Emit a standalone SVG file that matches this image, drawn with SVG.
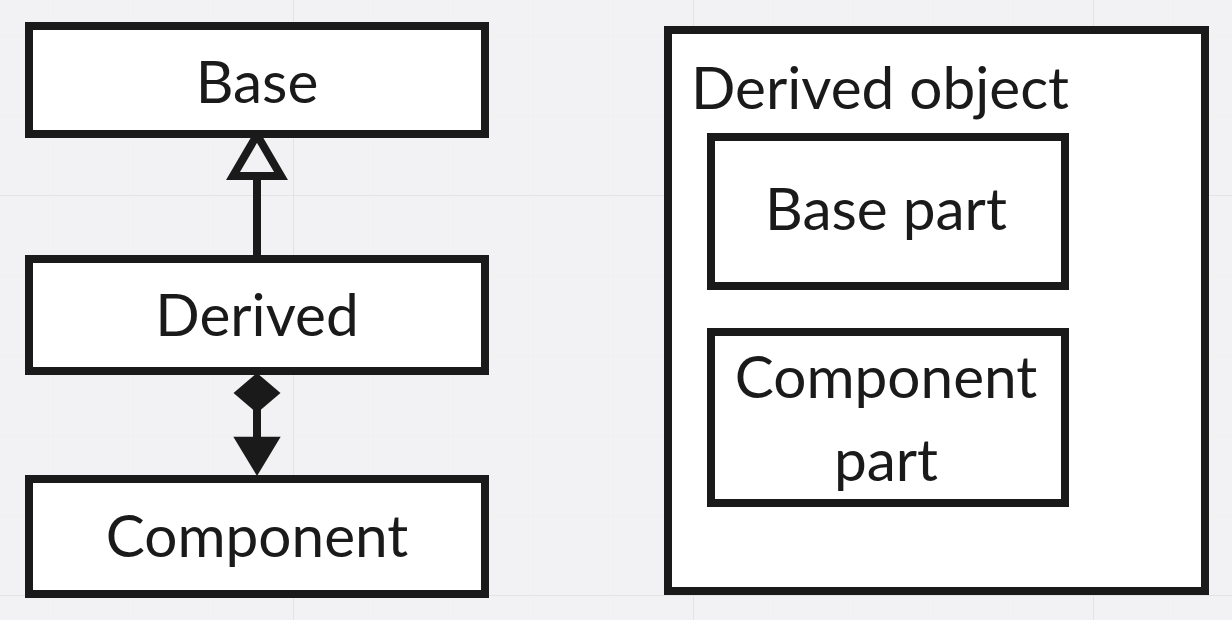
<svg xmlns="http://www.w3.org/2000/svg" width="1232" height="620" viewBox="0 0 1232 620">
<defs>
<pattern id="minor" width="80" height="80" patternUnits="userSpaceOnUse" x="53" y="35">
<path d="M0 0V80M0 0H80" fill="none" stroke="#efeff1" stroke-width="1.5"/>
</pattern>
<pattern id="major" width="400" height="400" patternUnits="userSpaceOnUse" x="293" y="195">
<path d="M0 0V400M0 0H400" fill="none" stroke="#e3e3e6" stroke-width="2"/>
</pattern>
</defs>
<style>
.box{fill:#ffffff;stroke:#1a1a1a;stroke-width:8}
.lbl{font-family:Lato,"Noto Sans","Liberation Sans",sans-serif;font-size:58.5px;font-weight:400;fill:#1a1a1a;text-anchor:middle}
.lbl-start{text-anchor:start}
.edge{stroke:#1a1a1a;stroke-width:8;fill:none}
.hollow{fill:#f2f2f4;stroke:#1a1a1a;stroke-width:8;stroke-linejoin:miter}
.solid{fill:#1a1a1a;stroke:none}
</style>
<rect width="1232" height="620" fill="#f2f2f4"/>
<rect width="1232" height="620" fill="url(#minor)"/>
<rect width="1232" height="620" fill="url(#major)"/>

<g id="connectors">
<line class="edge" x1="257" y1="259" x2="257" y2="174"/>
<polygon class="hollow" points="257,135 281,176 233,176"/>
<polygon class="solid" points="257,373 280.5,393 257,413 233.5,393"/>
<line class="edge" x1="257" y1="405" x2="257" y2="440"/>
<polygon class="solid" points="233.3,436.7 280.7,436.7 257,476"/>
</g>

<g id="node-base">
<rect class="box" x="29" y="26" width="456" height="108"/>
<text class="lbl" x="257" y="103">Base</text>
</g>
<g id="node-derived">
<rect class="box" x="29" y="259" width="456" height="112"/>
<text class="lbl" x="257" y="336">Derived</text>
</g>
<g id="node-component">
<rect class="box" x="29" y="479" width="456" height="115"/>
<text class="lbl" x="257" y="557">Component</text>
</g>

<g id="node-derived-object">
<rect class="box" x="668" y="30" width="537" height="561"/>
<text class="lbl lbl-start" x="691" y="109">Derived object</text>
</g>
<g id="node-base-part">
<rect class="box" x="711" y="137" width="354" height="149"/>
<text class="lbl" x="886" y="230">Base part</text>
</g>
<g id="node-component-part">
<rect class="box" x="711" y="332" width="354" height="171"/>
<text class="lbl" x="886" y="398">Component</text>
<text class="lbl" x="886" y="481">part</text>
</g>
</svg>
